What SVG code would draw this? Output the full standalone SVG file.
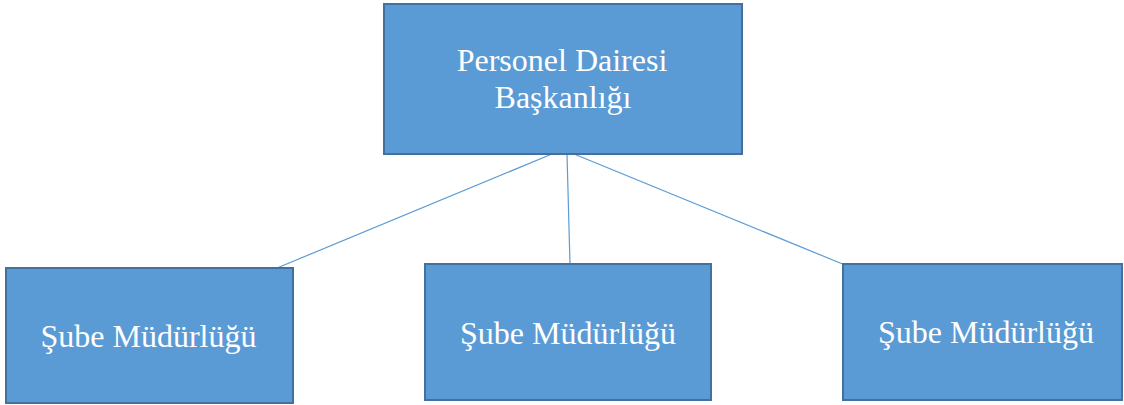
<svg xmlns="http://www.w3.org/2000/svg" width="1124" height="405" viewBox="0 0 1124 405">
<style>
.box{fill:#5B9BD5;stroke:#41719C;stroke-width:2}
.lbl{font-family:"Liberation Serif","Times New Roman",serif;font-size:32px;fill:#FFFFFF;text-anchor:middle}
.conn{stroke:#5B9BD5;stroke-width:1.2;fill:none}
</style>
<rect width="1124" height="405" fill="#FFFFFF"/>
<g id="connectors">
<line class="conn" x1="552" y1="154" x2="277" y2="268"/>
<line class="conn" x1="567" y1="154" x2="570" y2="264"/>
<line class="conn" x1="574" y1="154" x2="845" y2="265"/>
</g>
<g id="top">
<rect class="box" x="384" y="4" width="358" height="150"/>
<text class="lbl" x="562" y="71">Personel Dairesi</text>
<text class="lbl" x="563" y="108">Başkanlığı</text>
</g>
<g id="left">
<rect class="box" x="6" y="268" width="287" height="135"/>
<text class="lbl" x="148.5" y="347">Şube Müdürlüğü</text>
</g>
<g id="middle">
<rect class="box" x="425" y="264" width="286" height="136"/>
<text class="lbl" x="568" y="344">Şube Müdürlüğü</text>
</g>
<g id="right">
<rect class="box" x="843" y="264" width="279" height="136"/>
<text class="lbl" x="986" y="343">Şube Müdürlüğü</text>
</g>
</svg>
